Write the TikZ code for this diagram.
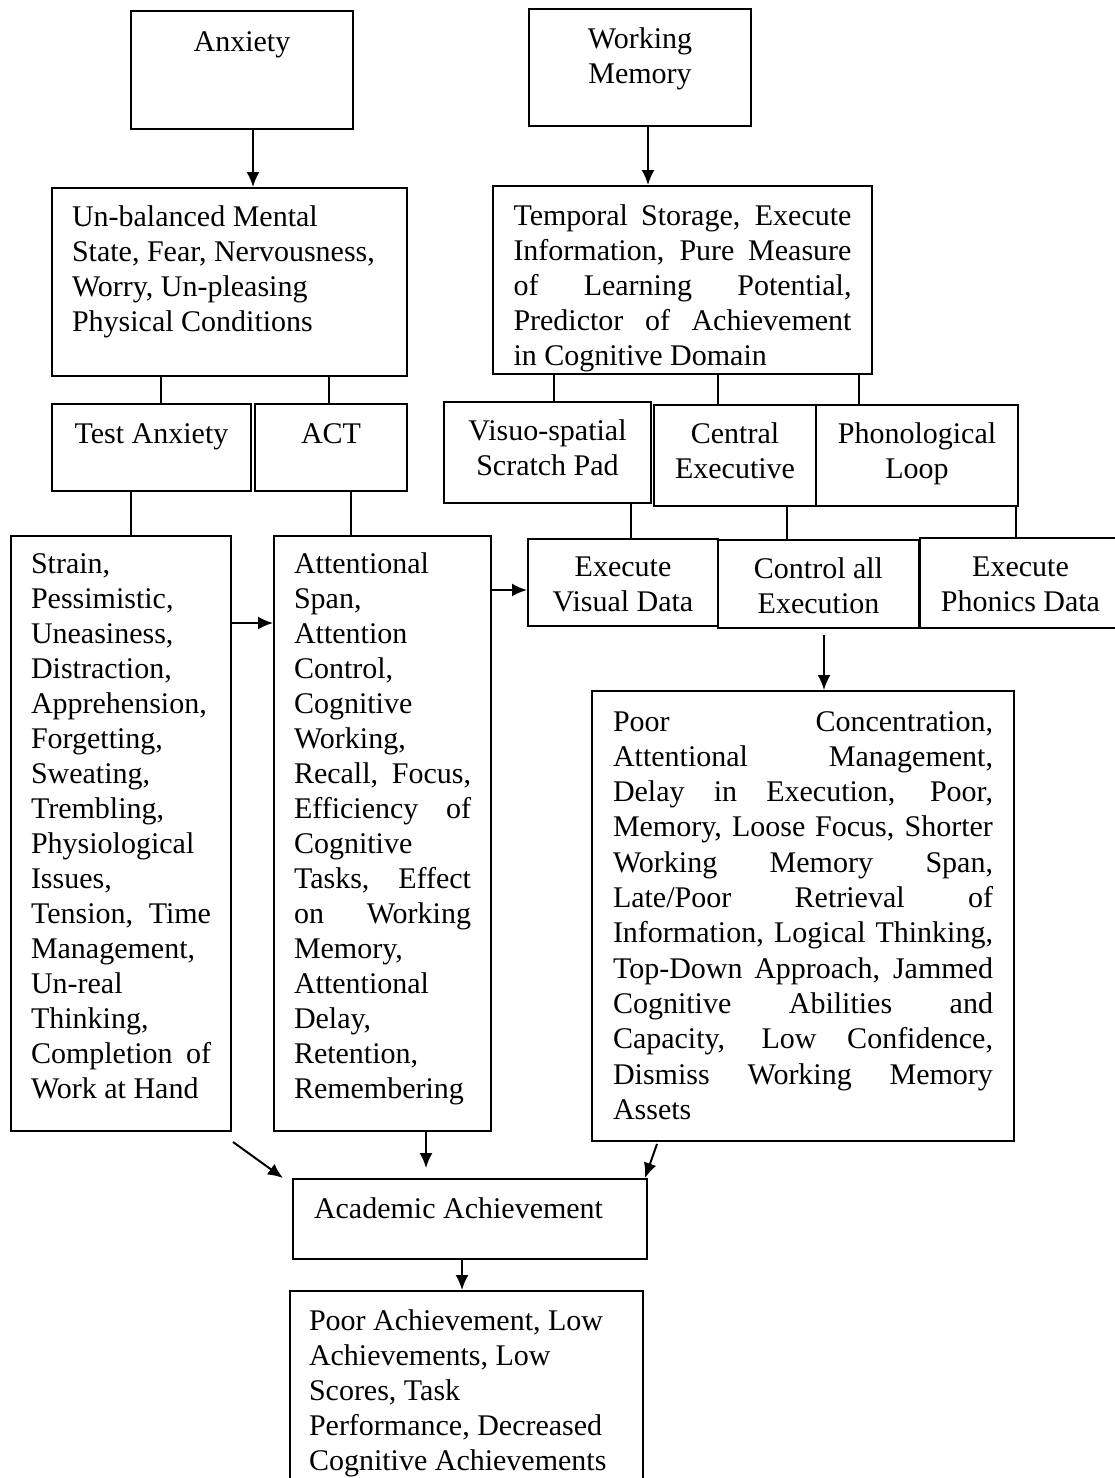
\documentclass[tikz,border=0pt]{standalone}
\usepackage{fontspec}
\setmainfont{Liberation Serif}
\usetikzlibrary{arrows.meta}

% box content: width, height, first-baseline offset, text
\newcommand\bxt[4]{\parbox[t][#2pt][t]{#1pt}{\rule{0pt}{#3pt}#4}}
% one justified line
\newcommand\jl[1]{\makebox[\linewidth][s]{#1}}

\tikzset{
  boxst/.style={draw, line width=2pt, inner ysep=0pt, inner xsep=10pt,
    anchor=north west, font=\fontsize{30}{35}\selectfont},
  link/.style={line width=2pt},
  arr/.style={line width=2pt, -{Latex[length=15pt,width=13pt]}},
}

\begin{document}
\begin{tikzpicture}[x=1pt,y=-1pt]
\fill[white] (0,0) rectangle (1115,1478);
\useasboundingbox (0,0) rectangle (1115,1478);
\clip (0,0) rectangle (1115,1478);

% top row
\node[boxst] (anx) at (130,10) {\bxt{202}{118}{40}{\centering Anxiety}};
\node[boxst] (wm) at (528,8) {\bxt{202}{117}{39}{\centering Working\\Memory}};

% descriptions of the two roots
\node[boxst, inner xsep=20pt] (unb) at (51,187) {\bxt{315}{188}{38}{%
Un-balanced Mental\\
State, Fear, Nervousness,\\
Worry, Un-pleasing\\
Physical Conditions}};
\node[boxst, inner xsep=20.5pt] (temp) at (492,185) {\bxt{338}{188}{39}{%
\jl{Temporal Storage, Execute}\\
\jl{Information, Pure Measure}\\
\jl{of Learning Potential,}\\
\jl{Predictor of Achievement}\\
in Cognitive Domain}};

% components
\node[boxst] (test) at (51,403) {\bxt{179}{87}{39}{\centering Test Anxiety}};
\node[boxst] (act) at (254,403) {\bxt{132}{87}{39}{\centering ACT}};
\node[boxst] (visuo) at (443,401) {\bxt{187}{101}{38}{\centering Visuo-spatial\\Scratch Pad}};
\node[boxst] (cent) at (653,404) {\bxt{142}{101}{38}{\centering Central\\Executive}};
\node[boxst] (phon) at (815,404) {\bxt{182}{101}{38}{\centering Phonological\\Loop}};

% symptom lists
\node[boxst, inner xsep=20pt] (strain) at (10,535) {\bxt{180}{595}{37}{%
Strain,\\
Pessimistic,\\
Uneasiness,\\
Distraction,\\
Apprehension,\\
Forgetting,\\
Sweating,\\
Trembling,\\
Physiological\\
Issues,\\
\jl{Tension, Time}\\
Management,\\
Un-real\\
Thinking,\\
\jl{Completion of}\\
Work at Hand}};
\node[boxst, inner xsep=20pt] (attn) at (273,535) {\bxt{177}{595}{37}{%
Attentional\\
Span,\\
Attention\\
Control,\\
Cognitive\\
Working,\\
\jl{Recall, Focus,}\\
\jl{Efficiency of}\\
Cognitive\\
\jl{Tasks, Effect}\\
\jl{on Working}\\
Memory,\\
Attentional\\
Delay,\\
Retention,\\
Remembering}};

% functions of the components
\node[boxst] (visd) at (527,538) {\bxt{170}{87}{37}{\centering Execute\\Visual Data}};
\node[boxst] (ctrl) at (717,539) {\bxt{181}{88}{38}{\centering Control all\\Execution}};
\node[boxst] (phd) at (919,537) {\bxt{181}{90}{38}{\centering Execute\\Phonics Data}};

\node[boxst, inner xsep=21pt] (poor) at (591,690) {\bxt{380}{450}{40}{%
\fontsize{30}{35.3}\selectfont
\jl{Poor Concentration,}\\
\jl{Attentional Management,}\\
\jl{Delay in Execution, Poor,}\\
\jl{Memory, Loose Focus, Shorter}\\
\jl{Working Memory Span,}\\
\jl{Late/Poor Retrieval of}\\
\jl{Information, Logical Thinking,}\\
\jl{Top-Down Approach, Jammed}\\
\jl{Cognitive Abilities and}\\
\jl{Capacity, Low Confidence,}\\
\jl{Dismiss Working Memory}\\
Assets}};

% outcome
\node[boxst, inner xsep=21pt] (acad) at (292,1178) {\bxt{312}{80}{39}{Academic Achievement}};
\node[boxst, inner xsep=19pt] (pach) at (289,1290) {\bxt{315}{200}{39}{%
Poor Achievement, Low\\
Achievements, Low\\
Scores, Task\\
Performance, Decreased\\
Cognitive Achievements}};

% arrows from the roots
\draw[arr] ([xshift=11pt]anx.south) coordinate (a1) -- (a1 |- unb.north);
\draw[arr] ([xshift=8pt]wm.south) coordinate (a2) -- (a2 |- temp.north);

% tree links
\draw[link] ([xshift=9.5pt]test.north) coordinate (l1) -- (l1 |- unb.south);
\draw[link] ([xshift=-2pt]act.north) coordinate (l2) -- (l2 |- unb.south);
\draw[link] ([xshift=6.5pt]visuo.north) coordinate (l3) -- (l3 |- temp.south);
\draw[link] ([xshift=-17pt]cent.north) coordinate (l4) -- (l4 |- temp.south);
\draw[link] ([xshift=-58pt]phon.north) coordinate (l5) -- (l5 |- temp.south);
\draw[link] ([xshift=10pt]strain.north) coordinate (l6) -- (l6 |- test.south);
\draw[link] ([xshift=-31.5pt]attn.north) coordinate (l7) -- (l7 |- act.south);
\draw[link] ([xshift=8pt]visd.north) coordinate (l8) -- (l8 |- visuo.south);
\draw[link] ([xshift=-31.5pt]ctrl.north) coordinate (l9) -- (l9 |- cent.south);
\draw[link] ([xshift=-4.5pt]phd.north) coordinate (l10) -- (l10 |- phon.south);

% horizontal arrows
\draw[arr] ([yshift=-88pt]strain.north east) coordinate (h1) -- (h1 -| attn.west);
\draw[arr] ([yshift=-55pt]attn.north east) coordinate (h2) -- (h2 -| visd.west);

% arrows to the outcome
\draw[arr] ([xshift=5.5pt,yshift=-6pt]ctrl.south) coordinate (d1) -- (d1 |- poor.north);
\draw[arr] ([shift={(1pt,-10pt)}]strain.south east) -- ([xshift=-9pt]acad.north west);
\draw[arr, shorten >=10pt] ([xshift=43.5pt]attn.south) coordinate (d2) -- (d2 |- acad.north);
\draw[arr] ([shift={(-146pt,-2pt)}]poor.south) -- ([xshift=-3pt]acad.north east);
\draw[arr] ([xshift=-8pt]acad.south) coordinate (d3) -- (d3 |- pach.north);
\end{tikzpicture}
\end{document}
